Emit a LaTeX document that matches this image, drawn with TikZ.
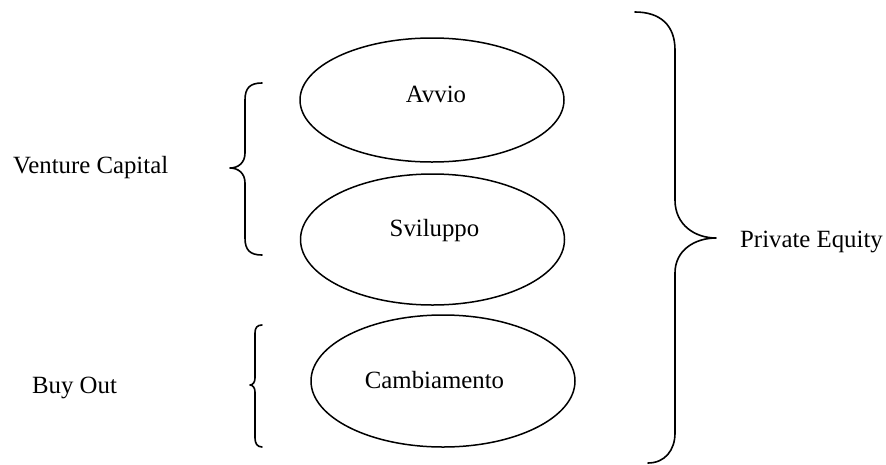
\documentclass[tikz,border=0pt]{standalone}
\usepackage{fontspec}
\setmainfont{Liberation Serif}
\usetikzlibrary{shapes.geometric}
\begin{document}
\begin{tikzpicture}[x=1pt,y=-1pt,
  oval/.style={draw,ellipse,line width=1.5pt,inner sep=0pt,minimum width=264pt},
  lbl/.style={inner sep=0pt,font=\fontsize{24.8}{28}\selectfont},
  brace/.style={draw,line width=1.6pt,line cap=round,line join=round}]
\useasboundingbox (0,0) rectangle (886,464);
% ellipses
\node[oval,minimum height=124pt] (e1) at (432,100) {};
\node[oval,minimum height=131pt] (e2) at (432.5,239.5) {};
\node[oval,minimum height=132pt] (e3) at (443,381) {};
% texts in ellipses
\node[lbl,anchor=base] (t1) at (436,102) {Avvio};
\node[lbl,anchor=base] (t2) at (434.5,236) {Sviluppo};
\node[lbl,anchor=base] (t3) at (434.5,388) {Cambiamento};
% side labels
\node[lbl,anchor=base west] (vc) at (13,173) {Venture Capital};
\node[lbl,anchor=base west] (bo) at (32,393) {Buy Out};
\node[lbl,anchor=base west] (pe) at (740,247) {Private Equity};
% brace Venture Capital
\path[brace] (262,83) .. controls (250,83) and (245,88) .. (245,100) -- (245,153)
  .. controls (245,163) and (238,168) .. (230,168)
  .. controls (238,168) and (245,173) .. (245,183) -- (245,238)
  .. controls (245,250) and (250,255) .. (262,255);
% brace Buy Out
\path[brace] (262,325) .. controls (257,325) and (255,328) .. (255,333) -- (255,378)
  .. controls (255,382) and (253,385) .. (250,385)
  .. controls (253,385) and (255,388) .. (255,392) -- (255,438)
  .. controls (255,443) and (257,447) .. (262,447);
% brace Private Equity
\path[brace] (635,12) .. controls (660,12) and (675,25) .. (675,50) -- (675,200)
  .. controls (675,225) and (695,238) .. (716,238)
  .. controls (695,238) and (675,250) .. (675,273) -- (675,433)
  .. controls (675,450) and (665,463) .. (648,463);
\end{tikzpicture}
\end{document}
